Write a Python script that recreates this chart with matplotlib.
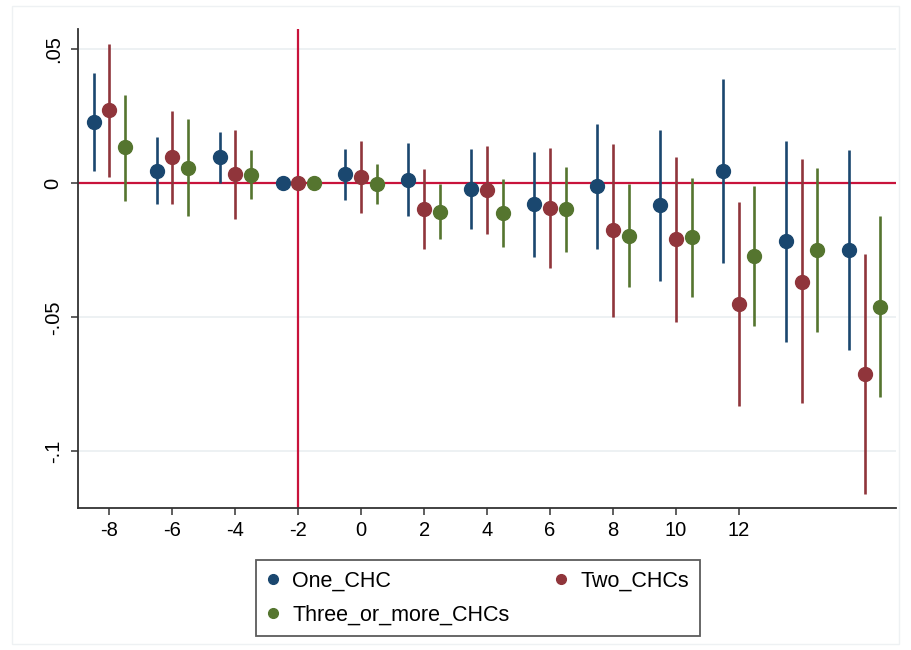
import matplotlib
matplotlib.use("Agg")
import matplotlib.pyplot as plt
import numpy as np
from matplotlib.lines import Line2D
from matplotlib.patches import Rectangle

plt.rcParams['font.family'] = ['Liberation Sans', 'DejaVu Sans']

# Event time relative to treatment (reference period: -2)
event_time = [-8, -6, -4, -2, 0, 2, 4, 6, 8, 10, 12, 14, 16]

# One_CHC: coefficient and 95% CI
one_coef = [0.0230, 0.0047, 0.0098, 0.0, 0.0034, 0.0013, -0.0021, -0.0078, -0.0011, -0.0082, 0.0045, -0.0214, -0.0250]
one_lo = [0.0047, -0.0076, 0.0000, np.nan, -0.0062, -0.0121, -0.0172, -0.0274, -0.0246, -0.0363, -0.0297, -0.0592, -0.0622]
one_hi = [0.0413, 0.0172, 0.0191, np.nan, 0.0129, 0.0149, 0.0128, 0.0118, 0.0222, 0.0198, 0.0388, 0.0160, 0.0123]

# Two_CHCs
two_coef = [0.0274, 0.0097, 0.0035, 0.0, 0.0025, -0.0096, -0.0025, -0.0093, -0.0175, -0.0209, -0.0449, -0.0366, -0.0712]
two_lo = [0.0025, -0.0076, -0.0131, np.nan, -0.0110, -0.0244, -0.0190, -0.0317, -0.0498, -0.0518, -0.0830, -0.0821, -0.1160]
two_hi = [0.0520, 0.0270, 0.0201, np.nan, 0.0160, 0.0052, 0.0139, 0.0131, 0.0146, 0.0099, -0.0069, 0.0090, -0.0264]

# Three_or_more_CHCs
three_coef = [0.0134, 0.0058, 0.0032, 0.0, -0.0001, -0.0105, -0.0110, -0.0097, -0.0196, -0.0200, -0.0270, -0.0249, -0.0460]
three_lo = [-0.0065, -0.0121, -0.0060, np.nan, -0.0077, -0.0208, -0.0238, -0.0257, -0.0386, -0.0423, -0.0532, -0.0554, -0.0796]
three_hi = [0.0331, 0.0240, 0.0124, np.nan, 0.0073, -0.0002, 0.0017, 0.0062, -0.0004, 0.0021, -0.0010, 0.0056, -0.0122]

series = [
    ("One_CHC", one_coef, one_lo, one_hi, -0.5, "#1a476f"),
    ("Two_CHCs", two_coef, two_lo, two_hi, 0.0, "#90353b"),
    ("Three_or_more_CHCs", three_coef, three_lo, three_hi, 0.5, "#55752f"),
]

x_ticks = [-8, -6, -4, -2, 0, 2, 4, 6, 8, 10, 12]
y_ticks = [0.05, 0.0, -0.05, -0.1]
y_tick_labels = [".05", "0", "-.05", "-.1"]

fig = plt.figure(figsize=(9.11, 6.5), dpi=100)
fig.patch.set_facecolor("white")
# faint outer frame
fig.patches.append(Rectangle((12 / 911, 6 / 650), 887 / 911, 638 / 650,
                             transform=fig.transFigure, fill=False,
                             edgecolor="#eef1f3", linewidth=1.0))

ax = fig.add_axes([78 / 911, 1 - 508 / 650, (896 - 78) / 911, (508 - 29) / 650])
ax.set_xlim(-9, 17)
ax.set_ylim(-0.1211, 0.0576)

ref_color = "#c8133b"
for yv in y_ticks:
    ax.axhline(yv, color="#eaeff1", linewidth=1.2, zorder=0)
ax.axhline(0, color=ref_color, linewidth=1.6, zorder=1)
ax.axvline(-2, color=ref_color, linewidth=1.6, zorder=1)

handles = {}
for name, coef, lo, hi, off, col in series:
    xs = np.array(event_time, dtype=float) + off
    ax.vlines(xs, lo, hi, color=col, linewidth=1.9, zorder=2)
    ax.plot(xs, coef, linestyle="none", marker="o", markersize=10,
            markerfacecolor=col, markeredgecolor=col, zorder=3)
    handles[name] = Line2D([], [], linestyle="none", marker="o", markersize=7,
                           markerfacecolor=col, markeredgecolor=col)

ax.set_xticks(x_ticks)
ax.set_xticklabels([str(t) for t in x_ticks])
ax.set_yticks(y_ticks)
ax.set_yticklabels(y_tick_labels, rotation=90, va="center")
ax.tick_params(axis="both", direction="out", length=5, width=1.1,
               color="#333333", labelsize=14.5, labelcolor="black", pad=4)
ax.tick_params(axis="y", pad=6)
for s in ("top", "right"):
    ax.spines[s].set_visible(False)
for s in ("left", "bottom"):
    ax.spines[s].set_color("#333333")
    ax.spines[s].set_linewidth(1.3)

order = ["One_CHC", "Three_or_more_CHCs", "Two_CHCs"]
leg = fig.legend([handles[n] for n in order], order, ncol=2,
                 loc="center", bbox_to_anchor=(478 / 911, 1 - 598 / 650),
                 frameon=True, fancybox=False, edgecolor="#333333",
                 fontsize=15.5, handlelength=0.6, handletextpad=0.6,
                 columnspacing=2.1, borderpad=0.5, labelspacing=0.6,
                 borderaxespad=0)
leg.get_frame().set_linewidth(1.3)

fig.savefig("out.png", dpi=100, facecolor="white")
